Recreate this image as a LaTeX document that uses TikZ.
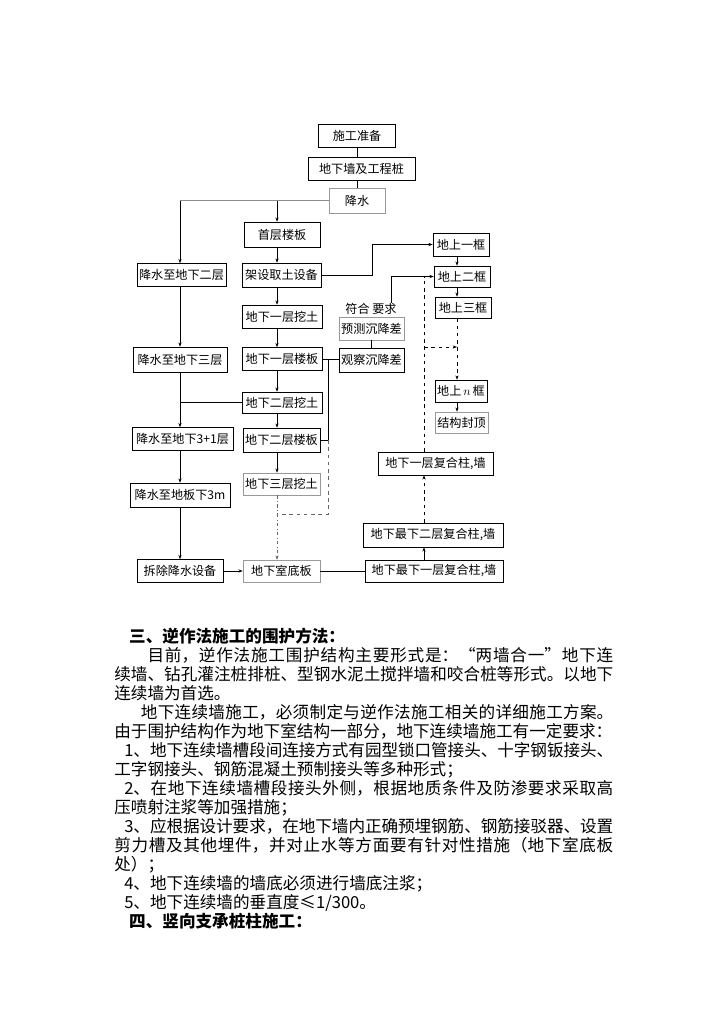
\documentclass[tikz,border=0pt]{standalone}
\usepackage{fontspec}
\setmainfont{Noto Sans CJK SC}
\usepackage{tikz}
\usetikzlibrary{arrows.meta}
\XeTeXlinebreaklocale "zh"
\XeTeXlinebreakskip=0pt plus 1.5pt minus 0.4pt
\tolerance=9999
\hbadness=10000
\newdimen\pxu
\pxu=0.82525pt

\begin{document}
\begin{tikzpicture}[
  x=0.82525pt, y=-0.82525pt,
  line width=0.5pt,
  >={Stealth[length=3.5pt, width=2.6pt]},
  proc/.style={rectangle, draw=black, fill=white, minimum height=23\pxu, inner sep=1pt, font=\fontsize{10}{12}\selectfont},
  proclight/.style={proc, draw=black!40},
  prochead/.style={proc, line width=1.1pt},
  note/.style={inner sep=0pt, font=\fontsize{10}{12}\selectfont},
  para/.style={inner sep=0pt, text width=499\pxu, align=justify, font=\fontsize{13.7}{15.68}\selectfont}
]
\path[use as bounding box, fill=white] (0,0) rectangle (724,1024);

% Start
\node[prochead, minimum width=77\pxu] (zhunbei) at (357,136) {施工准备};
\node[proc, minimum width=107\pxu] (qiangzhuang) at (361.5,169) {地下墙及工程桩};
\node[proclight, minimum width=56\pxu, minimum height=25\pxu] (jiangshui) at (357,200.5) {降水};

% Left column: dewatering
\node[proc, minimum width=89\pxu] (jd2) at (181.5,275) {降水至地下二层};
\node[proc, minimum width=94\pxu, minimum height=25\pxu] (jd3) at (180,359.5) {降水至地下三层};
\node[proc, minimum width=101\pxu] (jd31) at (182.5,439) {降水至地下3+1层};
\node[proc, minimum width=100\pxu, minimum height=24\pxu] (jd3m) at (180,495) {降水至地板下3m};
\node[proc, minimum width=86\pxu] (chaichu) at (180,571) {拆除降水设备};

% Middle column: slabs and excavation
\node[proc, minimum width=76\pxu, minimum height=25\pxu] (shouceng) at (282,234.5) {首层楼板};
\node[proc, minimum width=79\pxu, minimum height=24\pxu] (jiashe) at (281.5,275) {架设取土设备};
\node[proc, minimum width=80\pxu] (wa1) at (282,316.5) {地下一层挖土};
\node[proc, minimum width=80\pxu] (lb1) at (282,359) {地下一层楼板};
\node[proc, minimum width=80\pxu, minimum height=21\pxu] (wa2) at (282,402.5) {地下二层挖土};
\node[proc, minimum width=77\pxu, minimum height=24\pxu] (lb2) at (281.5,440) {地下二层楼板};
\node[proclight, minimum width=77\pxu, minimum height=22\pxu] (wa3) at (281.5,484) {地下三层挖土};
\node[proclight, minimum width=77\pxu, minimum height=22\pxu] (diban) at (281.5,571) {地下室底板};

% Settlement check
\node[note] (fuhe) at (371,309) {符合\ 要求};
\node[proclight, minimum width=65\pxu] (yuce) at (371.5,328.5) {预测沉降差};
\node[proc, minimum width=65\pxu, minimum height=24\pxu] (guancha) at (371.5,360) {观察沉降差};

% Above ground frames
\node[proc, minimum width=56\pxu] (ds1) at (461,244.5) {地上一框};
\node[proc, minimum width=56\pxu, minimum height=21\pxu] (ds2) at (462,276.5) {地上二框};
\node[proc, minimum width=56\pxu, minimum height=21\pxu] (ds3) at (463,307.5) {地上三框};
\node[proc, minimum width=52\pxu, minimum height=22\pxu] (dsn) at (461,391) {地上\,$n$\,框};
\node[proclight, minimum width=53\pxu, minimum height=21\pxu] (fengding) at (461.5,422.5) {结构封顶};

% Composite columns and walls
\node[proc, minimum width=115\pxu] (fh1) at (435.5,463.5) {地下一层复合柱,墙};
\node[proc, minimum width=140\pxu, minimum height=24\pxu] (zx2) at (433,535) {地下最下二层复合柱,墙};
\node[proc, minimum width=138\pxu, minimum height=22\pxu] (zx1) at (434,571) {地下最下一层复合柱,墙};

% Hilfspunkte
\coordinate (colL) at (180,0);
\coordinate (colM) at (277,0);
\coordinate (colK) at (328,0);
\coordinate (turnA) at (372,0);
\coordinate (turnB) at (391,0);
\coordinate (colD) at (424,0);
\coordinate (colU) at (457,0);
\coordinate (rowA) at (0,347);
\coordinate (rowB) at (0,514);

% Top chain
\draw (zhunbei.south) -- (zhunbei.south |- qiangzhuang.north);
\draw (qiangzhuang.south -| jiangshui.north) -- (jiangshui.north);
\draw[black!45] (jiangshui.west) -- (jiangshui.west -| colL);
\draw[->] (jiangshui.west -| colL) -- (jd2.north -| colL);
\draw[->] (jiangshui.west -| colM) -- (shouceng.north -| colM);

% Left column
\draw[->] (jd2.south -| colL) -- (jd3.north -| colL);
\draw[->] (jd3.south -| colL) -- (jd31.north -| colL);
\draw[->] (jd31.south -| colL) -- (jd3m.north -| colL);
\draw[->] (jd3m.south -| colL) -- (chaichu.north -| colL);
\draw (wa2.west) -- (wa2.west -| colL);

% Middle column
\draw[->] (shouceng.south -| colM) -- (jiashe.north -| colM);
\draw[->] (jiashe.south -| colM) -- (wa1.north -| colM);
\draw[->] (wa1.south -| colM) -- (lb1.north -| colM);
\draw[->] (lb1.south -| colM) -- (wa2.north -| colM);
\draw[->] (wa2.south -| colM) -- (lb2.north -| colM);
\draw[->] (lb2.south -| colM) -- (wa3.north -| colM);
\draw[->, dash dot, black!60] (wa3.south -| colM) -- (diban.north -| colM);
\draw (lb1.east) -- (lb1.east -| guancha.west);
\draw (lb1.east -| colK) |- (lb2.east);
\draw[dashed, black!60] (lb2.east -| colK) |- (rowB -| colM);

% Bottom row
\draw[->] (chaichu.east) -- (diban.west);
\draw (diban.east) -- (zx1.west);

% Settlement and frames
\draw (yuce.south) -- (guancha.north);
\draw[->] (jiashe.east) -- (jiashe.east -| turnA) |- (ds1.west);
\draw[->] (fuhe.north -| turnB) |- (ds2.west);
\draw[->] (ds1.south -| colU) -- (ds2.north -| colU);
\draw[->] (ds2.south -| colU) -- (ds3.north -| colU);
\draw[->, dashed] (ds3.south -| colU) -- (dsn.north -| colU);
\draw[->] (dsn.south -| colU) -- (fengding.north -| colU);

% Composite columns
\draw[->] (zx1.north -| colD) -- (zx2.south -| colD);
\draw[->, dashed] (zx2.north -| colD) -- (fh1.south -| colD);
\draw[dashed] (fh1.north -| colD) -- (ds2.west -| colD);
\draw[->, dashed] (rowA -| colD) -- (rowA -| colU);

% Text below
\node[para, anchor=north west] (body) at (114,628) {%
\hspace*{0.9em}{\bfseries 三、逆作法施工的围护方法：}\par
\hspace*{2em}目前，逆作法施工围护结构主要形式是：“两墙合一”地下连\linebreak
续墙、钻孔灌注桩排桩、型钢水泥土搅拌墙和咬合桩等形式。以地下\linebreak
连续墙为首选。\par
\hspace*{1.6em}地下连续墙施工，必须制定与逆作法施工相关的详细施工方案。\linebreak
由于围护结构作为地下室结构一部分，地下连续墙施工有一定要求：\par
\hspace*{0.6em}1、地下连续墙槽段间连接方式有园型锁口管接头、十字钢钣接头、\linebreak
工字钢接头、钢筋混凝土预制接头等多种形式；\par
\hspace*{0.6em}2、在地下连续墙槽段接头外侧，根据地质条件及防渗要求采取高\linebreak
压喷射注浆等加强措施；\par
\hspace*{0.6em}3、应根据设计要求，在地下墙内正确预埋钢筋、钢筋接驳器、设置\linebreak
剪力槽及其他埋件，并对止水等方面要有针对性措施（地下室底板\linebreak
处）；\par
\hspace*{0.6em}4、地下连续墙的墙底必须进行墙底注浆；\par
\hspace*{0.6em}5、地下连续墙的垂直度≤1/300。\par
\hspace*{0.9em}{\bfseries 四、竖向支承桩柱施工：}};

\end{tikzpicture}
\end{document}
